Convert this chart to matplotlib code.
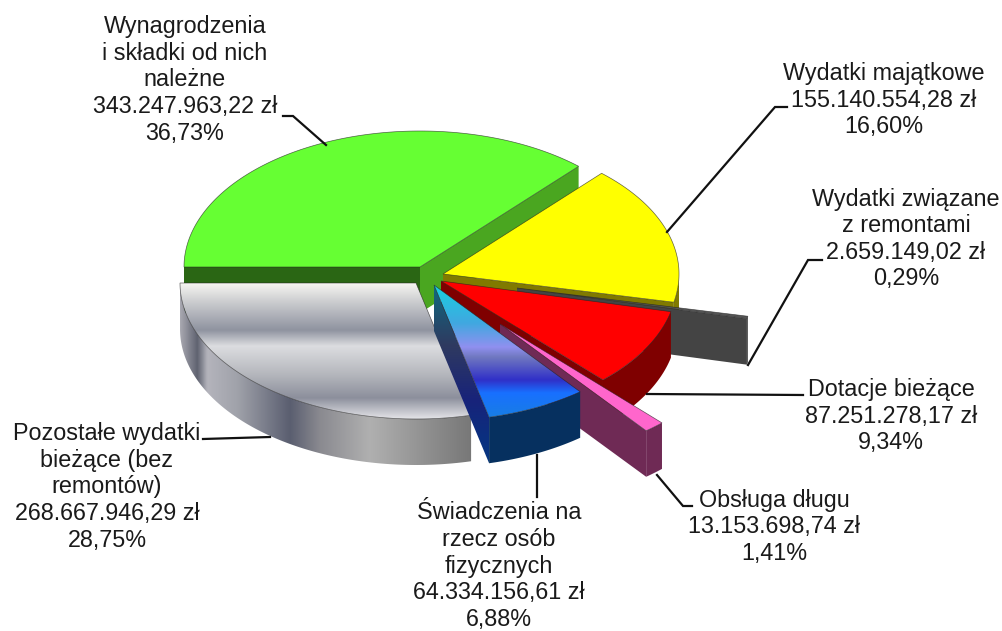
import numpy as np
import matplotlib
matplotlib.use('Agg')
import matplotlib.pyplot as plt
from matplotlib.patches import Polygon
from matplotlib.colors import LinearSegmentedColormap

plt.rcParams['font.family'] = ['Liberation Sans', 'DejaVu Sans']

# Data, clockwise from the left edge of the pie
categories = ['Wynagrodzenia\ni składki od nich\nnależne', 'Wydatki majątkowe',
              'Wydatki związane\nz remontami', 'Dotacje bieżące', 'Obsługa długu',
              'Świadczenia na\nrzecz osób\nfizycznych',
              'Pozostałe wydatki\nbieżące (bez\nremontów)']
amounts = ['343.247.963,22 zł', '155.140.554,28 zł', '2.659.149,02 zł', '87.251.278,17 zł',
           '13.153.698,74 zł', '64.334.156,61 zł', '268.667.946,29 zł']
shares = [36.73, 16.60, 0.29, 9.34, 1.41, 6.88, 28.75]

# Layout in picture pixels
RX, RY, DEPTH = 236, 136, 46
apexes = [(420, 267), (443, 274), (517, 288), (441, 281), (500, 324), (434, 285), (416, 283)]
top_colors = ['#66ff33', '#ffff00', '#555555', '#ff0000', '#ff66cc', '#1878f0', '#c0c0c8']
wall_colors = ['#2a6614', '#807a00', '#444444', '#7f0000', '#6f2a55', '#0a3a9a', '#8a8a90']
outer_colors = ['#2a6614', '#807a00', '#444444', '#7f0000', '#6f2a55', '#06305f', '#8a8a90']
draw_order = [0, 1, 2, 3, 4, 6, 5]
label_xy = [(185, 80), (884, 100), (906, 239), (891, 416), (774, 527), (499, 566), (107, 487)]
leaders = [[(283, 116), (293, 116), (326, 145)],
           [(787, 107), (775, 107), (667, 232)],
           [(822, 260), (808, 260), (748, 365)],
           [(803, 395), (647, 394)],
           [(692, 506), (683, 506), (657, 475)],
           [(537, 497), (537, 455)],
           [(203, 439), (270, 437)]]

# Shading stops: (pixel position, colour)
gray_top = [(283, '#f6f6f2'), (300, '#cfd0d2'), (330, '#8f93a0'), (346, '#dcdde0'),
            (375, '#b4b6bc'), (398, '#8c8f9c'), (419, '#e4e4e8')]
gray_side = [(180, '#a8a8b0'), (197, '#5f6270'), (207, '#b4b4bc'), (237, '#a0a2aa'),
             (290, '#5a5e70'), (320, '#8a8a90'), (370, '#b0b0b0'), (437, '#8a8a8a'),
             (473, '#777777')]
blue_top = [(285, '#18d0e0'), (323, '#40a8e0'), (347, '#9090f0'), (357, '#7078c0'),
            (380, '#3030c8'), (393, '#1870ff'), (421, '#1880e0')]
blue_wall = [(285, '#0f6a80'), (345, '#2f3a60'), (400, '#18237a'), (440, '#0a3080'),
             (468, '#063a80')]


def arc_points(apex, a1, a2):
    """Points of the rim between two angles (degrees) on the tilted circle."""
    t = np.radians(np.linspace(a1, a2, max(int(abs(a2 - a1) * 2), 2)))
    return np.column_stack([apex[0] + RX * np.cos(t), apex[1] - RY * np.sin(t)])


def ramp(ax, poly, stops, zorder, horizontal=False):
    """Fill a polygon with a colour ramp clipped to its outline."""
    lo, hi = stops[0][0], stops[-1][0]
    cmap = LinearSegmentedColormap.from_list(
        'ramp', [((p - lo) / (hi - lo), c) for p, c in stops])
    patch = Polygon(poly, closed=True, facecolor='none', edgecolor='none', zorder=zorder)
    ax.add_patch(patch)
    g = np.linspace(0, 1, 256)
    if horizontal:
        im = ax.imshow(g[None, :], cmap=cmap, aspect='auto', zorder=zorder,
                       extent=(lo, hi, poly[:, 1].max(), poly[:, 1].min()))
    else:
        im = ax.imshow(g[:, None], cmap=cmap, aspect='auto', zorder=zorder, origin='upper',
                       extent=(poly[:, 0].min(), poly[:, 0].max(), hi, lo))
    im.set_clip_path(patch)


fig = plt.figure(figsize=(10.02, 6.31), dpi=100)
ax = fig.add_axes([0, 0, 1, 1])
ax.axis('off')

# Slice angles follow from the shares
edges = 180 - np.cumsum([0] + shares) * 3.6
z = 1
for i in draw_order:
    a1, a2 = edges[i], edges[i + 1]
    apex = np.array(apexes[i], dtype=float)
    down = np.array([0, DEPTH])

    # Cut faces that turn toward the viewer
    for ang, shows in ((a1, np.cos(np.radians(a1)) < 0),
                       (a2, -90 < a2 < 90)):
        if not shows:
            continue
        rim = arc_points(apex, ang, ang + 1)[0]
        face = np.array([apex, rim, rim + down, apex + down])
        if i == 5:
            ramp(ax, face, blue_wall, z)
        else:
            # the green slice has a lighter cut face on its right side
            color = '#4aa620' if i == 0 and ang == a2 else wall_colors[i]
            ax.add_patch(Polygon(face, closed=True, facecolor=color, edgecolor='none', zorder=z))
        z += 1

    # Outer wall, only the part below the horizon
    lo, hi = max(a2, -180), min(a1, 0)
    if hi > lo:
        rim = arc_points(apex, hi, lo)
        wall = np.vstack([rim, rim[::-1] + down])
        if i == 6:
            ramp(ax, wall, gray_side, z, horizontal=True)
        else:
            ax.add_patch(Polygon(wall, closed=True, facecolor=outer_colors[i],
                                 edgecolor='none', zorder=z))
        z += 1

    # Top surface
    top = np.vstack([apex, arc_points(apex, a1, a2)])
    if i == 6:
        ramp(ax, top, gray_top, z)
    elif i == 5:
        ramp(ax, top, blue_top, z)
    else:
        ax.add_patch(Polygon(top, closed=True, facecolor=top_colors[i], edgecolor='none', zorder=z))
    ax.add_patch(Polygon(top, closed=True, facecolor='none', edgecolor='#222222',
                         linewidth=0.5, alpha=0.7, zorder=z + 1))
    z += 2

# Leader lines and labels
for line in leaders:
    xs, ys = zip(*line)
    ax.plot(xs, ys, color='#111111', linewidth=1.6, solid_joinstyle='miter', zorder=z)

for name, amount, share, (x, y) in zip(categories, amounts, shares, label_xy):
    pct = f"{share:.2f}".replace('.', ',')
    ax.text(x, y, f"{name}\n{amount}\n{pct}%", ha='center', va='center', fontsize=16.8,
            color='#1a1a1a', linespacing=1.2, zorder=z + 1)

ax.set_xlim(0, 1002)
ax.set_ylim(631, 0)
fig.savefig('out.png', dpi=100)
